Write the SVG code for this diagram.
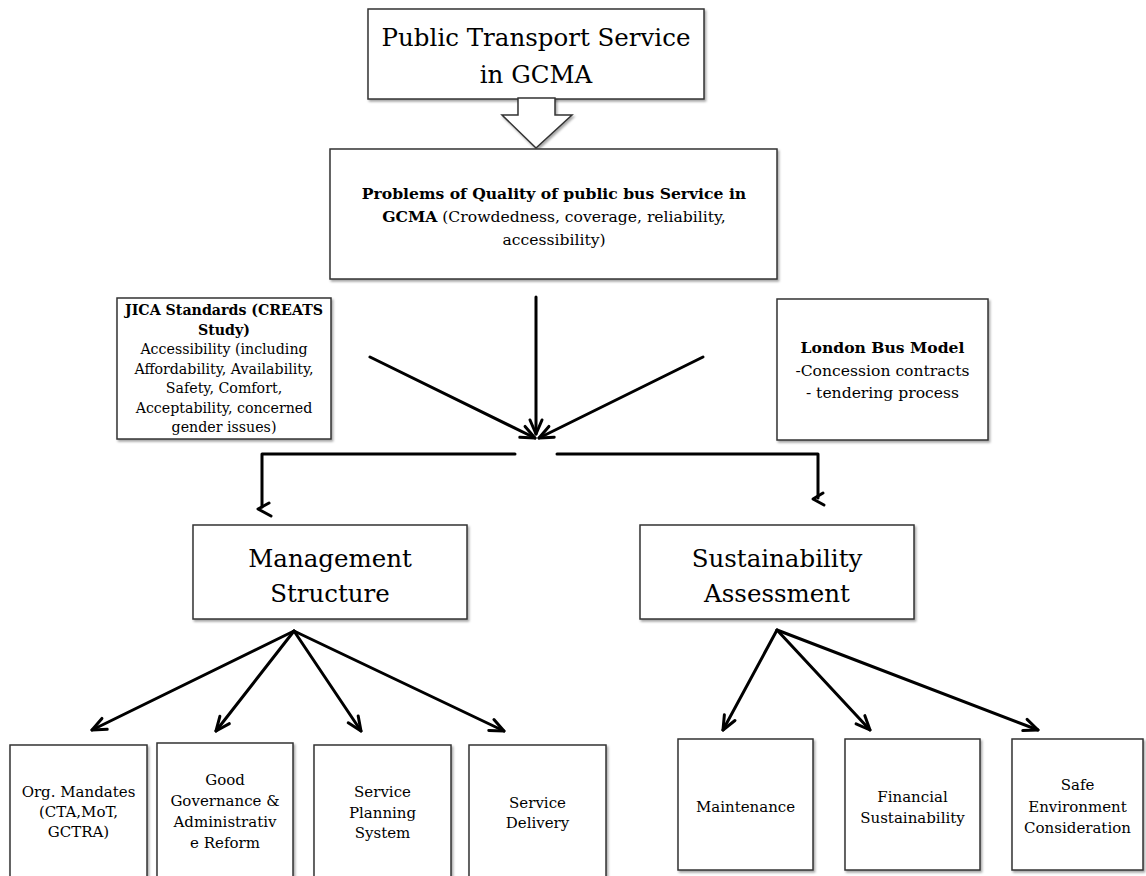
<svg xmlns="http://www.w3.org/2000/svg" width="1146" height="876" viewBox="0 0 1146 876">
<style>
  .box{fill:#fff;stroke:#333;stroke-width:1.5;filter:url(#sh)}
  .t{font-family:"DejaVu Serif","Liberation Serif",serif;fill:#000;text-anchor:middle}
  .big{font-size:24.5px}
  .mid{font-size:15.6px}
  .sm{font-size:15px}
  .b{font-weight:bold}
  .ln{fill:none;stroke:#000;stroke-width:3;stroke-linecap:round;stroke-linejoin:round}
</style>
<defs>
  <filter id="sh" x="-10%" y="-10%" width="130%" height="130%">
    <feDropShadow dx="1.5" dy="2" stdDeviation="1.2" flood-color="#000" flood-opacity="0.35"/>
  </filter>
  <marker id="ah" viewBox="-2 -2 18 16" markerWidth="18" markerHeight="16" refX="14" refY="6" orient="auto" markerUnits="userSpaceOnUse">
    <path d="M0,0 L14,6 L0,12" fill="none" stroke="#000" stroke-width="3" stroke-linecap="round" stroke-linejoin="round"/>
  </marker>
</defs>
<rect width="1146" height="876" fill="#fff"/>

<g id="title">
  <rect class="box" x="368" y="9" width="336" height="90"/>
  <text class="t big" x="536" y="46">Public Transport Service</text>
  <text class="t big" x="536" y="83">in GCMA</text>
</g>
<g id="blockarrow">
  <polygon class="box" points="518,98 518,115 502,115 536,148 572,115 555,115 555,98"/>
</g>

<g id="problems">
  <rect class="box" x="330" y="149" width="447" height="130"/>
  <text class="t mid b" x="554" y="199">Problems of Quality of public bus Service in</text>
  <text class="t mid" x="554" y="222"><tspan font-weight="bold">GCMA</tspan> (Crowdedness, coverage, reliability,</text>
  <text class="t mid" x="554" y="245">accessibility)</text>
</g>

<g id="jica">
  <rect class="box" x="117" y="298" width="214" height="141"/>
  <text class="t b" font-size="14.2" x="224" y="315">JICA Standards (CREATS</text>
  <text class="t b" font-size="14.2" x="224" y="334.5">Study)</text>
  <text class="t" font-size="14.2" x="224" y="354">Accessibility (including</text>
  <text class="t" font-size="14.2" x="224" y="373.5">Affordability, Availability,</text>
  <text class="t" font-size="14.2" x="224" y="393">Safety, Comfort,</text>
  <text class="t" font-size="14.2" x="224" y="412.5">Acceptability, concerned</text>
  <text class="t" font-size="14.2" x="224" y="432">gender issues)</text>
</g>

<g id="london">
  <rect class="box" x="777" y="299" width="211" height="141"/>
  <text class="t b" font-size="15.6" x="882.5" y="353">London Bus Model</text>
  <text class="t" font-size="15.6" x="882.5" y="375.5">-Concession contracts</text>
  <text class="t" font-size="15.6" x="882.5" y="398">- tendering process</text>
</g>

<g id="management">
  <rect class="box" x="193" y="525" width="274" height="94"/>
  <text class="t big" x="330" y="567">Management</text>
  <text class="t big" x="330" y="602">Structure</text>
</g>
<g id="sustainability">
  <rect class="box" x="640" y="525" width="274" height="94"/>
  <text class="t big" x="777" y="567">Sustainability</text>
  <text class="t big" x="777" y="602">Assessment</text>
</g>

<g id="org">
  <rect class="box" x="10" y="745" width="137" height="140"/>
  <text class="t sm" x="78.5" y="797">Org. Mandates</text>
  <text class="t sm" x="78.5" y="817">(CTA,MoT,</text>
  <text class="t sm" x="78.5" y="837">GCTRA)</text>
</g>
<g id="governance">
  <rect class="box" x="157" y="743" width="136" height="142"/>
  <text class="t sm" x="225" y="785">Good</text>
  <text class="t sm" x="225" y="806">Governance &amp;</text>
  <text class="t sm" x="225" y="827">Administrativ</text>
  <text class="t sm" x="225" y="848">e Reform</text>
</g>
<g id="planning">
  <rect class="box" x="314" y="745" width="137" height="140"/>
  <text class="t sm" x="382.5" y="797">Service</text>
  <text class="t sm" x="382.5" y="818">Planning</text>
  <text class="t sm" x="382.5" y="838">System</text>
</g>
<g id="delivery">
  <rect class="box" x="469" y="745" width="137" height="140"/>
  <text class="t sm" x="537.5" y="808">Service</text>
  <text class="t sm" x="537.5" y="828">Delivery</text>
</g>
<g id="maintenance">
  <rect class="box" x="678" y="739" width="135" height="131"/>
  <text class="t sm" x="745.5" y="812">Maintenance</text>
</g>
<g id="financial">
  <rect class="box" x="845" y="739" width="135" height="131"/>
  <text class="t sm" x="912.5" y="802">Financial</text>
  <text class="t sm" x="912.5" y="823">Sustainability</text>
</g>
<g id="safe">
  <rect class="box" x="1012" y="739" width="131" height="131"/>
  <text class="t sm" x="1077.5" y="790">Safe</text>
  <text class="t sm" x="1077.5" y="812">Environment</text>
  <text class="t sm" x="1077.5" y="833">Consideration</text>
</g>

<g id="connectors">
  <line class="ln" x1="536" y1="297" x2="536" y2="434" marker-end="url(#ah)"/>
  <line class="ln" x1="370" y1="357" x2="535" y2="438" marker-end="url(#ah)"/>
  <line class="ln" x1="703" y1="357" x2="539" y2="438" marker-end="url(#ah)"/>

  <polyline class="ln" points="515,454 262,454 262,507"/>
  <polyline class="ln" points="269,503 258,509 271,516"/>
  <polyline class="ln" points="557,454 818,454 818,498"/>
  <polyline class="ln" points="823,493 813,499 824,505"/>

  <line class="ln" x1="294" y1="631" x2="92" y2="730" marker-end="url(#ah)"/>
  <line class="ln" x1="294" y1="631" x2="216" y2="731" marker-end="url(#ah)"/>
  <line class="ln" x1="294" y1="631" x2="361" y2="731" marker-end="url(#ah)"/>
  <line class="ln" x1="294" y1="631" x2="504" y2="731" marker-end="url(#ah)"/>

  <line class="ln" x1="777" y1="630" x2="723" y2="730" marker-end="url(#ah)"/>
  <line class="ln" x1="777" y1="630" x2="870" y2="730" marker-end="url(#ah)"/>
  <line class="ln" x1="777" y1="630" x2="1038" y2="730" marker-end="url(#ah)"/>
</g>
</svg>
